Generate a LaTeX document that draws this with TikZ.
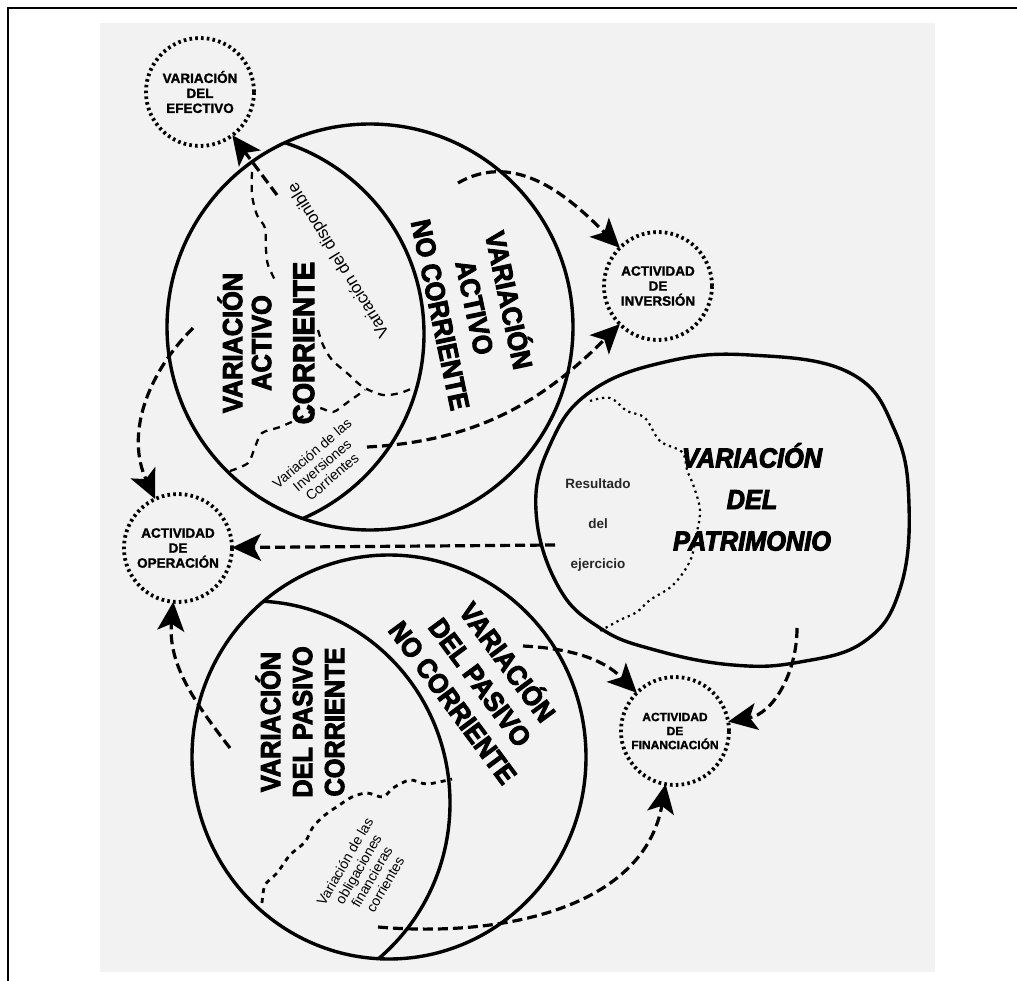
\documentclass[tikz,border=0pt]{standalone}
\usepackage{fontspec}
\setmainfont{Liberation Sans}
\newfontfamily\heavyfont{Liberation Sans Bold}[FakeBold=3.5,FakeStretch=0.92]
\newfontfamily\heavyitfont{Liberation Sans Bold Italic}[FakeBold=3.5,FakeStretch=0.92]
\newfontfamily\medfont{Liberation Sans Bold}[FakeBold=1.5]
\usetikzlibrary{arrows.meta}
\definecolor{papergray}{HTML}{F2F2F2}
\newcommand{\bigtext}[1]{\fontsize{27.5}{#1}\heavyfont}
\newcommand{\circtext}{\fontsize{13.5}{15}\medfont}
\newcommand{\notetext}[1]{\fontsize{#1}{15.5}\selectfont}

\begin{document}
\begin{tikzpicture}[x=1pt,y=1pt,
  outline/.style={line width=3.4pt},
  flow/.style={line width=3.2pt,dash pattern=on 10pt off 5pt,-{Stealth[length=29pt,width=27pt,inset=7pt]}},
  limit/.style={line width=2.3pt,dash pattern=on 7pt off 6pt},
  actividad/.style={circle,minimum size=108pt,inner sep=0pt,outer sep=0pt,draw,line width=3.8pt,
    dash pattern=on 2.6pt off 3.2pt,align=center,font=\circtext}]

 \useasboundingbox (0,0) rectangle (1017,-981);
 \fill[papergray] (100,-23) rectangle (935,-972);
 \draw[line width=2pt] (8,-981) -- (8,-8) -- (1017,-8);

 % activo
 \draw[outline] (370,-327) circle (203);
 \begin{scope}
   \clip (370,-327) circle (203);
   \draw[outline] (223,-334) circle (201);
 \end{scope}
 % pasivo
 \draw[outline] (389,-757) ellipse (197 and 202);
 \begin{scope}
   \clip (389,-757) ellipse (197 and 202);
   \draw[outline] (253,-803) ellipse (197 and 202);
 \end{scope}
 % patrimonio
 \draw[outline] plot[smooth cycle,tension=0.7] coordinates {(750,-355) (850,-373) (895,-431) (909,-505)
   (900,-589) (865,-641) (800,-662) (733,-665) (655,-650) (600,-628) (558,-586) (536,-511) (550,-445)
   (590,-392) (665,-362)};
 \draw[line width=2.2pt,dash pattern=on 2.2pt off 4pt] plot[smooth,tension=0.6] coordinates {(590,-401)
   (610,-398) (627,-411) (645,-418) (660,-441) (682,-452) (687,-470) (694,-487) (700,-511) (696,-536)
   (690,-561) (673,-585) (650,-600) (637,-612) (620,-620) (600,-631)};

 % limites dentro de los circulos
 \draw[limit] plot[smooth,tension=0.5] coordinates {(252,-172) (252,-195) (257,-215) (265,-228)
   (266,-250) (268,-265) (276,-282)};
 \draw[limit] plot[smooth,tension=0.5] coordinates {(318,-330) (323,-345) (332,-360) (347,-373)
   (363,-387) (383,-395) (400,-393) (413,-388)};
 \draw[limit] plot[smooth,tension=0.5] coordinates {(230,-471) (248,-463) (255,-447) (262,-433)
   (280,-427) (300,-418) (318,-408) (333,-412) (348,-402) (365,-390)};
 \draw[line width=2.8pt,dash pattern=on 5pt off 5pt] plot[smooth,tension=0.5] coordinates {(262,-903)
   (265,-885) (277,-873) (290,-855) (305,-842) (313,-827) (325,-815) (338,-806) (352,-797) (367,-793)
   (383,-797) (393,-788) (410,-780) (427,-784) (452,-779)};

 % textos
 \node[rotate=90,align=center,font=\bigtext{29}] (activoc) at (266,-343) {VARIACIÓN\\ACTIVO\\[14pt]{\fontsize{30}{30}\heavyfont CORRIENTE}};
 \node[rotate=-78,align=center,font=\bigtext{35}] (activonc) at (477,-307) {VARIACIÓN\\ACTIVO\\NO CORRIENTE};
 \node[rotate=90,align=center,font=\bigtext{32}] (pasivoc) at (300,-722) {VARIACIÓN\\DEL PASIVO\\CORRIENTE};
 \node[rotate=-53.5,align=center,font=\bigtext{34}] (pasivonc) at (482,-681) {VARIACIÓN\\DEL PASIVO\\NO CORRIENTE};
 \node[align=center,font=\fontsize{27.5}{41.5}\heavyitfont] (patrimonio) at (752,-497) {VARIACIÓN\\DEL\\PATRIMONIO};
 \node[align=center,font=\fontsize{13.5}{40}\selectfont\bfseries,text=black!85] (resultado) at (598,-525) {Resultado\\del\\ejercicio};
 \node[rotate=121.6,font=\notetext{17}] (disponible) at (339,-260) {Variación del disponible};
 \node[rotate=40.6,align=center,font=\notetext{14}] (invcorr) at (322,-465) {Variación de las\\Inversiones\\Corrientes};
 \node[rotate=60,align=center,font=\notetext{14}] (obligaciones) at (365,-873) {Variación de las\\obligaciones\\financieras\\corrientes};

 \node[actividad] (efectivo) at (200,-92) {VARIACIÓN\\DEL\\EFECTIVO};
 \node[actividad] (inversion) at (658,-286) {ACTIVIDAD\\DE\\INVERSIÓN};
 \node[actividad] (operacion) at (178,-548) {ACTIVIDAD\\DE\\OPERACIÓN};
 \node[actividad,font=\fontsize{12}{14}\medfont] (financiacion) at (675,-731) {ACTIVIDAD\\DE\\FINANCIACIÓN};

 % flujos
 \coordinate (fromdisp) at (277,-195);
 \coordinate (fromanc) at (458,-183);
 \coordinate (frominv) at (367,-447);
 \coordinate (fromac) at (193,-328);
 \coordinate (fromres) at (555,-545);
 \coordinate (frompc) at (230,-748);
 \coordinate (frompnc) at (523,-646);
 \coordinate (fromobl) at (378,-927);
 \coordinate (frompat) at (797,-628);
 \draw[flow] (fromdisp) -- (efectivo);
 \draw[flow] (fromanc) to[out=30,in=135] (inversion);
 \draw[flow] (frominv) to[out=3,in=225] (inversion);
 \draw[flow] (fromac) to[out=225,in=115] (operacion);
 \draw[flow] (fromres) -- (operacion);
 \draw[flow] (frompc) to[out=128,in=-95] (operacion);
 \draw[flow] (frompnc) to[out=-3,in=135] (financiacion);
 \draw[flow] (fromobl) to[out=-5,in=-100] (financiacion);
 \draw[flow] (frompat) to[out=-90,in=10] (financiacion);

\end{tikzpicture}
\end{document}
